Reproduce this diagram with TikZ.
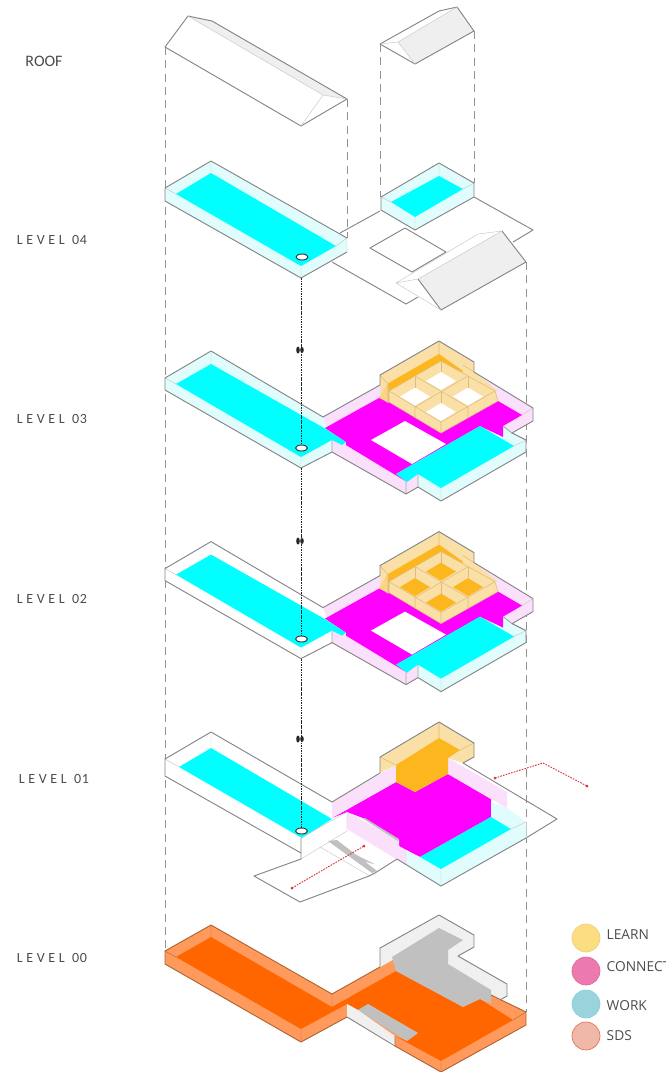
\documentclass[tikz,border=0pt]{standalone}
\usepackage{fontspec}
\usetikzlibrary{positioning}
\newfontfamily\levelfont[LetterSpace=26]{Carlito}
\newfontfamily\digitfont[LetterSpace=5]{Carlito}
\newfontfamily\roofont{Carlito}
\setsansfont{Open Sans}
\definecolor{PlanLine}{HTML}{858585}
\definecolor{PlanFold}{HTML}{C8C8C8}
\definecolor{PlanRoof}{HTML}{EFEFEF}
\definecolor{PlanCyan}{HTML}{00FFFF}
\definecolor{PlanGlass}{HTML}{E0FCFC}
\definecolor{PlanMagenta}{HTML}{FF00FF}
\definecolor{PlanPink}{HTML}{FAE0FA}
\definecolor{PlanAmber}{HTML}{FDB71E}
\definecolor{PlanSand}{HTML}{FADFA6}
\definecolor{PlanSandLine}{HTML}{DDBC7C}
\definecolor{PlanOrange}{HTML}{FF6600}
\definecolor{PlanApricot}{HTML}{FF9A5C}
\definecolor{PlanGrey}{HTML}{C0C0C0}
\definecolor{PlanMist}{HTML}{F0F0F0}
\definecolor{PlanRed}{HTML}{D8323C}
\tikzset{
  plan/.style={draw=PlanLine,line width=0.7pt,line join=round},
  fold/.style={draw=PlanFold,line width=0.35pt},
  guide/.style={draw=PlanLine!90,line width=0.5pt,dash pattern=on 6pt off 4pt},
  shaft/.style={draw=black!85,line width=0.7pt,dash pattern=on 1.3pt off 0.6pt},
  route/.style={draw=PlanRed,line width=0.7pt,dash pattern=on 1.2pt off 0.9pt},
  waffle/.style={draw=PlanSandLine,line width=0.4pt},
  levelname/.style={text=black!70,font=\fontsize{10.5}{12}\selectfont},
  legendtext/.style={text=black!70,font=\sffamily\fontsize{10.3}{12}\selectfont,anchor=west},
  legenddot/.style={circle,minimum size=21pt,inner sep=0pt,line width=0.5pt},
}
\newcommand{\upperfloor}[2]{
  \fill[#1] (165,378) -- (211,351) -- (323,417) -- (346,442) -- (332,452) -- (301,468) -- (165,390) -- cycle;
  \fill[PlanPink] (323,417) -- (380,385) -- (474,372) -- (533,408) -- (533,421) -- (512,433) -- (526,440) -- (441,501) -- (418,487) -- (406,494) -- (332,452) -- (332,440) -- cycle;
  \fill[PlanGlass] (503,426) -- (526,440) -- (526,452) -- (441,501) -- (418,487) -- (418,474) -- cycle;
  \fill[PlanMagenta] (325,428) -- (379,398) -- (498,401) -- (522,415) -- (503,426) -- (503,437) -- (480,426) -- (396,474) -- (407,482) -- (346,445) -- (346,442) -- cycle;
  \fill[white] (371,440) -- (405,421) -- (446,444) -- (412,464) -- cycle;
  \fill[PlanCyan] (396,474) -- (480,426) -- (514,446) -- (441,488) -- (418,474) -- (407,482) -- cycle;
  \fill[PlanCyan] (176,384) -- (211,364) -- (324,428) -- (346,442) -- (342,445) -- (332,440) -- (301,457) -- cycle;
  \fill[PlanSand] (380,385) -- (380,375) -- (439,341) -- (474,362) -- (474,372) -- (498,391) -- (441,400) -- cycle;
  \fill[PlanAmber] (379,398) -- (387,384) -- (439,354) -- (463,371) -- (441,400) -- (389,402) -- cycle;
  \fill[PlanSand,opacity=0.75] (380,398) -- (380,385) -- (388,384) -- (388,403) -- cycle;
  \fill[PlanSand] (389,391) -- (441,361) -- (495,391) -- (498,401) -- (441,433) -- (389,402) -- cycle;
  \draw[waffle] (495,391) -- (498,401) -- (441,433) -- (389,402) -- (389,391) -- (441,361) -- cycle
    (380,375) -- (388,384) -- (388,403) (439,341) -- (439,354) (389,391) -- (441,422) -- (495,391)
    (474,372) -- (463,365) (415,376) -- (468,407) (468,376) -- (415,407) (441,422) -- (441,433) (415,407) -- (415,418) (468,407) -- (468,418);
  \foreach \x/\y in {441/381,415/396.5,468/396.5,441/412} {
    \fill[#2] (\x-15,\y) -- (\x,\y-9) -- (\x+15,\y) -- (\x,\y+9) -- cycle;
    \draw[waffle] (\x,\y-9) -- (\x,\y-20);
  }
  \draw[fold] (165,378) -- (176,384) (211,351) -- (211,364) (301,457) -- (301,468) (441,488) -- (441,501) (514,446) -- (526,440) (533,408) -- (522,415);
  \draw[plan,draw=PlanLine!70] (332,440) -- (332,452) (503,426) -- (512,433) (406,482) -- (406,494) (418,474) -- (418,487);
  \draw[plan] (165,378) -- (211,351) -- (323,417) -- (380,385) -- (380,375) -- (439,341) -- (474,362) -- (474,372) -- (533,408) -- (533,421) -- (512,433) -- (526,440) -- (526,452) -- (441,501) -- (418,487) -- (406,494) -- (332,452) -- (301,468) -- (165,390) -- cycle;
}
\begin{document}
\begin{tikzpicture}[x=0.75pt,y=-0.75pt]
  \useasboundingbox (0,0) rectangle (666,1072);
  \draw[guide] (165,47) -- (165,951);
  \draw[guide] (347,99) -- (347,238);
  \draw[guide] (380,44) -- (380,197);
  \draw[guide] (474,31) -- (474,183);
  \draw[guide] (526,262) -- (526,1012);

  \fill[PlanRoof] (188,16) -- (212,21) -- (347,99) -- (323,95) -- cycle;
  \draw[plan] (165,47) -- (188,16) -- (212,21) -- (347,99) -- (301,126) -- cycle;
  \draw[fold] (188,16) -- (323,95) -- (347,99) (323,95) -- (301,126);
  \fill[PlanRoof] (398,42) -- (457,7) -- (474,31) -- (415,64) -- cycle;
  \draw[plan] (380,44) -- (439,11) -- (457,7) -- (474,31) -- (415,64) -- cycle;
  \draw[fold] (380,44) -- (398,42) -- (457,7) (398,42) -- (415,64);

  \draw[plan] (340,233) -- (380,211) (474,197) -- (533,230) -- (513,242) (332,262) -- (406,304) -- (418,297);
  \draw[plan] (370,248) -- (405,228) -- (446,252) -- (412,272) -- cycle;
  \fill[white] (396,283) -- (478,234) -- (502,231) -- (526,262) -- (441,310) -- (418,297) -- cycle;
  \fill[PlanRoof] (418,279) -- (502,231) -- (526,262) -- (441,310) -- cycle;
  \draw[plan] (502,231) -- (526,262) -- (441,310) -- (418,279);
  \draw[fold] (396,283) -- (478,234) -- (502,231) -- (418,279) -- (396,283) -- (441,310);
  \fill[PlanGlass] (165,188) -- (211,161) -- (347,238) -- (347,252) -- (301,278) -- (165,201) -- cycle;
  \fill[PlanCyan] (176,194) -- (211,173) -- (336,246) -- (301,266) -- cycle;
  \draw[fold] (165,188) -- (176,194) (211,161) -- (211,173) (347,238) -- (336,246) (301,266) -- (301,278) (347,238) -- (347,252);
  \draw[plan] (347,238) -- (211,161) -- (165,188) -- (165,201) -- (301,278) -- (347,252);
  \fill[PlanGlass] (381,197) -- (439,163) -- (474,183) -- (474,197) -- (415,230) -- (381,210) -- cycle;
  \fill[PlanCyan] (391,202) -- (439,176) -- (463,189) -- (415,217) -- cycle;
  \draw[fold] (381,197) -- (391,202) (439,163) -- (439,176) (474,183) -- (463,189) (415,217) -- (415,230);
  \draw[plan] (381,197) -- (439,163) -- (474,183) -- (474,197) -- (415,230) -- (381,210) -- cycle;

  \upperfloor{PlanGlass}{white}
  \begin{scope}[shift={(0,190.6)}]
    \upperfloor{white}{PlanAmber}
  \end{scope}

  \fill[white] (165,759) -- (211,732) -- (332,802) -- (332,818) -- (301,838) -- (165,776) -- cycle;
  \fill[PlanCyan] (179,767) -- (211,748) -- (332,819) -- (302,838) -- cycle;
  \draw[fold] (165,759) -- (179,767) (211,732) -- (211,748);
  \fill[PlanMagenta] (332,818) -- (396,782) -- (415,792) -- (448,774) -- (491,799) -- (491,817) -- (420,857) -- (399,846) -- (399,840) -- (363,818) -- (347,812) -- cycle;
  \fill[PlanPink] (332,802) -- (396,765) -- (396,782) -- (332,818) -- cycle;
  \fill[PlanPink] (448,758) -- (507,792) -- (507,808) -- (491,799) -- (448,774) -- cycle;
  \fill[PlanPink] (347,812) -- (399,840) -- (399,846) -- (406,851) -- (406,865) -- (347,829) -- cycle;
  \fill[PlanGlass] (491,802) -- (491,817) -- (511,829) -- (441,869) -- (420,857) -- (406,851) -- (406,865) -- (441,886) -- (526,838) -- (526,822) -- (507,808) -- cycle;
  \fill[PlanCyan] (420,857) -- (491,817) -- (511,829) -- (441,869) -- cycle;
  \fill[PlanSand] (380,773) -- (380,757) -- (439,722) -- (474,743) -- (474,757) -- (463,763) -- (448,758) -- (396,765) -- cycle;
  \fill[PlanAmber] (396,765) -- (439,738) -- (460,750) -- (448,758) -- (448,774) -- (415,792) -- (396,782) -- cycle;
  \draw[waffle] (439,722) -- (439,738) (474,743) -- (460,750) (380,757) -- (396,765);
  \fill[PlanGrey] (362,818) -- (365,818) -- (399,839) -- (398,841) -- cycle;
  \draw[fold] (301,838) -- (347,812) -- (347,831) -- (301,859) (441,869) -- (441,886) (511,829) -- (526,822) (406,851) -- (406,865);
  \fill[PlanGrey] (328,841) -- (337,840) -- (377,871) -- (372,873) -- cycle;
  \fill[PlanGrey] (345,849) -- (374,864) -- (358,860) -- cycle;
  \draw[fold] (320,847) -- (370,876) (344,850) -- (374,864);
  \draw[plan] (301,838) -- (301,859) -- (254,876) -- (300,902) -- (369,876) -- (375,873) -- (397,859) -- (441,886) -- (526,838) -- (557,819) -- (463,763) -- (474,757) -- (474,743) -- (439,722) -- (380,757) -- (380,773) -- (332,802) -- (211,732) -- (165,759) -- (165,776) -- (301,853);
  \draw[fold] (526,822) -- (526,838);
  \draw[route] (292,888) -- (364,846);
  \fill[PlanRed] (292,888) circle (1.5) (364,846) circle (1.5);
  \draw[route] (495,778) -- (543,763) -- (587,786);
  \fill[PlanRed] (495,778) circle (1.5) (587,786) circle (1.5);

  \fill[PlanApricot] (165,951) -- (211,925) -- (332,994) -- (396,958) -- (396,971) -- (480,999) -- (491,1003) -- (491,995) -- (526,1012) -- (526,1025) -- (441,1072) -- (395,1046) -- (395,1036) -- (347,1005) -- (347,1017) -- (301,1042) -- (165,964) -- cycle;
  \fill[PlanMist] (380,967) -- (380,948) -- (439,915) -- (474,935) -- (474,947) -- (458,956) -- (507,984) -- (507,996) -- (500,1000) -- (491,995) -- (491,990) -- (396,971) -- (396,958) -- cycle;
  \fill[PlanOrange] (176,957) -- (211,937) -- (332,1007) -- (396,971) -- (463,1007) -- (480,999) -- (513,1020) -- (441,1061) -- (395,1036) -- (407,1041) -- (418,1033) -- (368,1004) -- (358,1010) -- (347,1004) -- (301,1029) -- cycle;
  \fill[PlanGrey] (392,957) -- (439,928) -- (463,940) -- (448,950) -- (448,964) -- (491,990) -- (491,1003) -- (480,999) -- (463,1007) -- (396,971) -- cycle;
  \fill[PlanGrey] (358,1010) -- (368,1004) -- (418,1033) -- (407,1041) -- (397,1035) -- cycle;
  \fill[PlanMist] (347,1004) -- (347,1017) -- (395,1044) -- (395,1036) -- (358,1010) -- cycle;
  \draw[plan,draw=PlanApricot!70!black,line width=0.35pt] (332,994) -- (332,1007) (301,1029) -- (301,1042) (441,1061) -- (441,1072) (165,951) -- (176,957) (211,925) -- (211,937) (526,1012) -- (513,1020);
  \draw[plan,draw=PlanOrange!60!black!80] (380,967) -- (332,994) -- (211,925) -- (165,951) -- (165,964) -- (301,1042) -- (347,1017) (395,1036) -- (395,1046) -- (441,1072) -- (526,1025) -- (526,1012) -- (491,995);
  \draw[plan] (380,967) -- (380,948) -- (439,915) -- (474,935) -- (474,947) -- (458,956) -- (507,984) -- (507,996) -- (500,1000) (347,1017) -- (395,1046);

  \fill[white] (302,257) ellipse (6 and 3);
  \draw[plan,draw=black!80] (302,257) ellipse (6 and 3);
  \foreach \y in {448,639,831} {
    \fill[white] (301.5,\y) ellipse (6 and 3);
    \draw[plan,draw=black!80] (301.5,\y) ellipse (6 and 3);
  }
  \draw[shaft] (301.5,278) -- (301.5,445);
  \draw[shaft] (301.5,468) -- (301.5,636);
  \draw[shaft] (301.5,659) -- (301.5,828);
  \foreach \y in {350,541,739} {
    \fill[black!85] (298,\y) ellipse (1.8 and 3.5) (302,\y) ellipse (1.8 and 3);
  }

  \node[text=black!70,font=\roofont\fontsize{12}{14}\selectfont] (roof) at (44,61) {ROOF};
  \foreach \lab/\x/\y in {04/52/240,03/52/419,02/52/599,01/54/779,00/52/958}
    \node[levelname] (level\lab) at (\x,\y) {{\levelfont LEVEL}\hspace{5.5pt}{\digitfont\lab}};
  \foreach \name/\lab/\y/\ty/\col/\rim in {learn/LEARN/938/935/FBDD82/EFCF80,connect/CONNECT/971/967/EC7AAE/E068A0,work/WORK/1004/1006/9AD3DC/84D4DC,sds/SDS/1036/1036/F0B8A8/E87050} {
    \definecolor{dotfill}{HTML}{\col}
    \definecolor{dotrim}{HTML}{\rim}
    \node[legenddot,fill=dotfill,draw=dotrim] (\name) at (586,\y) {};
    \node[legendtext] (\name label) at (602,\ty) {\lab};
  }
\end{tikzpicture}
\end{document}
